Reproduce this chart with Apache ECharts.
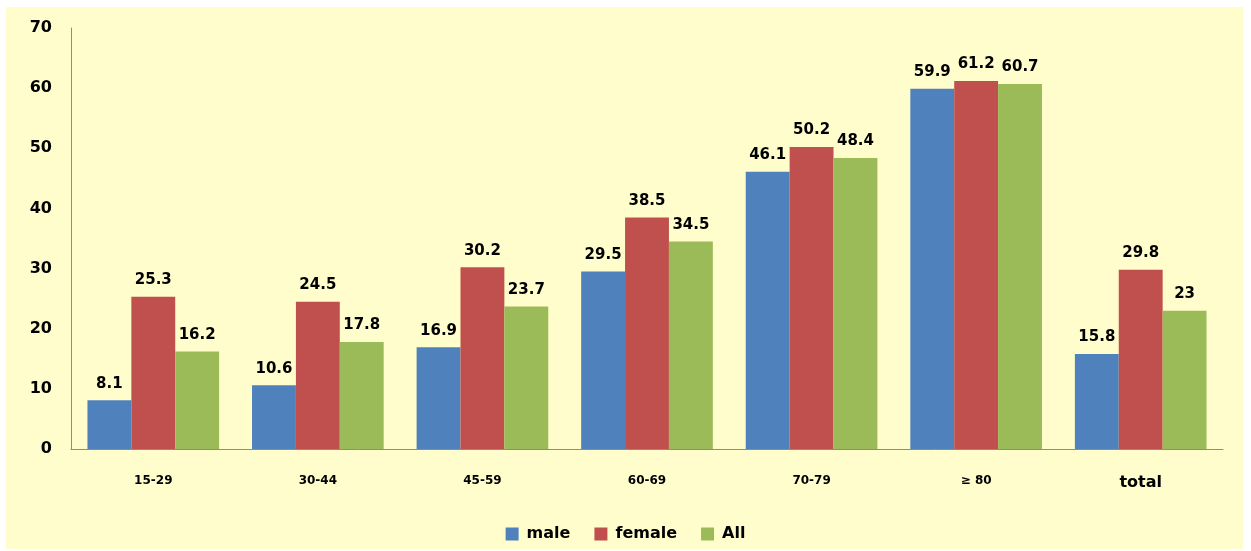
<!DOCTYPE html>
<html>
<head>
<meta charset="utf-8">
<script src="https://cdn.jsdelivr.net/npm/echarts@6/dist/echarts.min.js"></script>
<style>
html,body{margin:0;padding:0;background:#ffffff;}
#wrap{position:absolute;left:6px;top:7px;width:1237px;height:542px;background:#FFFDCC;}
#chart{position:absolute;left:-6px;top:-7px;width:1251px;height:551px;}
</style>
</head>
<body>
<div id="wrap"><div id="chart"></div></div>
<script>
const categories = ['15-29', '30-44', '45-59', '60-69', '70-79', '\u2265 80', 'total'];
const male = [8.1, 10.6, 16.9, 29.5, 46.1, 59.9, 15.8];
const female = [25.3, 24.5, 30.2, 38.5, 50.2, 61.2, 29.8];
const all = [16.2, 17.8, 23.7, 34.5, 48.4, 60.7, 23];
const yTicks = [0, 10, 20, 30, 40, 50, 60, 70];

const FONT = '"DejaVu Sans", Verdana, sans-serif';
const chart = echarts.init(document.getElementById('chart'));
const lbl = {show: true, position: 'top', distance: 9, color: '#000', fontFamily: FONT, fontWeight: 'bold', fontSize: 15};
function mk(name, data, color) {
  return {name, type: 'bar', data, barGap: '0%', barCategoryGap: '20%',
    itemStyle: {color}, label: lbl};
}
chart.setOption({
  backgroundColor: 'transparent',
  animation: false,
  grid: {left: 71, right: 28, top: 28, bottom: 102},
  legend: {
    bottom: 4, left: 'center', itemWidth: 13, itemHeight: 13, itemGap: 24,
    icon: 'rect',
    textStyle: {fontFamily: FONT, fontWeight: 'bold', fontSize: 16, color: '#000', padding: [0, 0, 0, 3]},
    data: ['male', 'female', 'All']
  },
  xAxis: {
    type: 'category', data: categories,
    axisLine: {lineStyle: {color: '#8c8c8c', width: 1}},
    axisTick: {show: false},
    axisLabel: {
      margin: 26, color: '#000', fontFamily: FONT, fontWeight: 'bold', fontSize: 12,
      formatter: v => v === 'total' ? '{big|total}' : v,
      rich: {big: {fontFamily: FONT, fontWeight: 'bold', fontSize: 16, color: '#000'}}
    }
  },
  yAxis: {
    type: 'value', min: yTicks[0], max: yTicks[yTicks.length - 1], interval: 10,
    axisLine: {show: true, lineStyle: {color: '#8c8c8c', width: 1}},
    axisTick: {show: false},
    splitLine: {show: false},
    axisLabel: {margin: 19, color: '#000', fontFamily: FONT, fontWeight: 'bold', fontSize: 16}
  },
  series: [
    mk('male', male, '#4F81BD'),
    mk('female', female, '#C0504D'),
    mk('All', all, '#9BBB59')
  ]
});
</script>
</body>
</html>
